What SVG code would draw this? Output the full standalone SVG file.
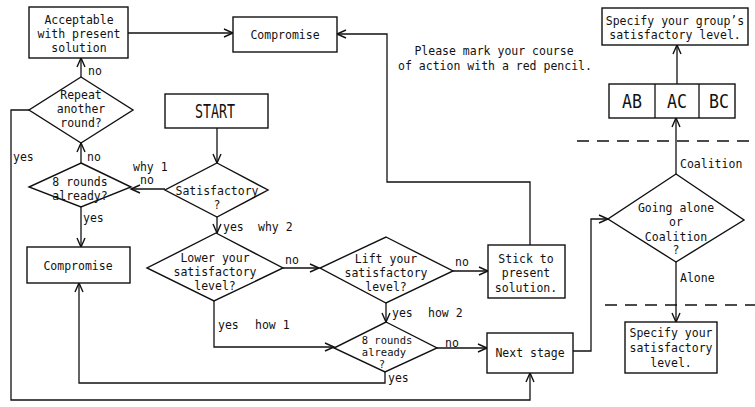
<svg xmlns="http://www.w3.org/2000/svg" width="755" height="407" viewBox="0 0 755 407">
<defs>
<marker id="arr" markerUnits="userSpaceOnUse" markerWidth="12" markerHeight="12" viewBox="-10 -6 12 12" refX="0" refY="0" orient="auto">
<path d="M-9,-4 L0,0 L-9,4" fill="none" stroke="#111" stroke-width="1.4"/>
</marker>
<style>
.s{fill:#fff;stroke:#111;stroke-width:1.4}
.c{fill:none;stroke:#111;stroke-width:1.3;marker-end:url(#arr)}
.l{fill:none;stroke:#111;stroke-width:1.3}
.d{fill:none;stroke:#111;stroke-width:1.4;stroke-dasharray:12 8}
text{font-family:"DejaVu Sans Mono","Liberation Mono",monospace;font-size:11.5px;fill:#111}
.m{text-anchor:middle}
.sm{font-size:10.5px}
.big{font-size:19px}
</style>
</defs>
<rect width="755" height="407" fill="#fff"/>

<g id="connectors">
<path class="c" d="M128,33 H233"/>
<path class="c" d="M530,245 V182 H387 V34 H337"/>
<path class="c" d="M81,77 V58"/>
<path class="c" d="M29,110 H11 V400 H530 V373"/>
<path class="c" d="M81,163 V143"/>
<path class="c" d="M81,207 V247"/>
<path class="c" d="M217,128 V163"/>
<path class="c" d="M165,189 H131"/>
<path class="c" d="M217,217 V233"/>
<path class="c" d="M283,268 H319"/>
<path class="c" d="M214,301 V347 H334"/>
<path class="c" d="M386,303 V322"/>
<path class="c" d="M453,271 H488"/>
<path class="c" d="M437,348 H487"/>
<path class="c" d="M385,372 V383 H79 V283"/>
<path class="c" d="M573,351 H591 V219 H608"/>
<path class="c" d="M676,174 V118"/>
<path class="c" d="M677,84 V45"/>
<path class="c" d="M676,262 V322"/>
</g>

<g id="dashes">
<path class="d" d="M577,141 H755"/>
<path class="d" d="M605,305 H755"/>
</g>

<g id="labels">
<text x="88" y="75">no</text>
<text x="13" y="161">yes</text>
<text x="87" y="161">no</text>
<text x="133" y="171">why 1</text>
<text x="140" y="184">no</text>
<text x="83" y="222">yes</text>
<text x="223" y="231">yes</text>
<text x="258" y="231">why 2</text>
<text x="285" y="264">no</text>
<text x="218" y="329">yes</text>
<text x="255" y="329">how 1</text>
<text x="392" y="317">yes</text>
<text x="428" y="317">how 2</text>
<text x="455" y="266">no</text>
<text x="445" y="347">no</text>
<text x="388" y="382">yes</text>
<text x="680" y="168">Coalition</text>
<text x="680" y="282">Alone</text>
<text class="m" x="494" y="55">Please mark your course</text>
<text class="m" x="495" y="70">of action with a red pencil.</text>
</g>

<g id="acceptable">
<rect class="s" x="29" y="7" width="99" height="51"/>
<text class="m" x="79" y="24">Acceptable</text>
<text class="m" x="79" y="38">with present</text>
<text class="m" x="79" y="52">solution</text>
</g>

<g id="compromise-top">
<rect class="s" x="233" y="17" width="104" height="35"/>
<text class="m" x="285" y="39">Compromise</text>
</g>

<g id="specify-group">
<rect class="s" x="602" y="8" width="146" height="37"/>
<text class="m" x="675" y="25">Specify your group’s</text>
<text class="m" x="675" y="39">satisfactory level.</text>
</g>

<g id="coalitions">
<rect class="s" x="609" y="84" width="126" height="34"/>
<path class="l" d="M655,84 V118 M699,84 V118"/>
<text class="m big" x="632" y="108" textLength="20" lengthAdjust="spacingAndGlyphs">AB</text>
<text class="m big" x="677" y="108" textLength="20" lengthAdjust="spacingAndGlyphs">AC</text>
<text class="m big" x="719" y="108" textLength="20" lengthAdjust="spacingAndGlyphs">BC</text>
</g>

<g id="start">
<rect class="s" x="165" y="94" width="103" height="34"/>
<text class="m big" x="215" y="118" textLength="40" lengthAdjust="spacingAndGlyphs">START</text>
</g>

<g id="repeat">
<polygon class="s" points="81,77 133,110 81,143 29,110"/>
<text class="m" x="81" y="99">Repeat</text>
<text class="m" x="81" y="113">another</text>
<text class="m" x="81" y="127">round?</text>
</g>

<g id="rounds-left">
<polygon class="s" points="81,163 131,187 81,207 29,187"/>
<text class="m" x="80" y="186">8 rounds</text>
<text class="m" x="80" y="200">already?</text>
</g>

<g id="satisfactory">
<polygon class="s" points="217,163 268,190 217,217 165,190"/>
<text class="m" x="217" y="195">Satisfactory</text>
<text class="m" x="217" y="209">?</text>
</g>

<g id="compromise-left">
<rect class="s" x="27" y="247" width="103" height="36"/>
<text class="m" x="78" y="270">Compromise</text>
</g>

<g id="lower">
<polygon class="s" points="216,233 283,268 214,301 147,268"/>
<text class="m" x="215" y="262">Lower your</text>
<text class="m" x="215" y="276">satisfactory</text>
<text class="m" x="215" y="290">level?</text>
</g>

<g id="lift">
<polygon class="s" points="386,237 453,271 386,303 320,268"/>
<text class="m" x="386" y="263">Lift your</text>
<text class="m" x="386" y="277">satisfactory</text>
<text class="m" x="386" y="291">level?</text>
</g>

<g id="stick">
<rect class="s" x="488" y="245" width="77" height="53"/>
<text class="m" x="526" y="263">Stick to</text>
<text class="m" x="526" y="277">present</text>
<text class="m" x="526" y="292">solution.</text>
</g>

<g id="rounds-right">
<polygon class="s" points="386,322 437,348 385,372 334,348"/>
<text class="m sm" x="387" y="344">8 rounds</text>
<text class="m sm" x="384" y="356">already</text>
<text class="m sm" x="382" y="368">?</text>
</g>

<g id="next-stage">
<rect class="s" x="487" y="333" width="86" height="40"/>
<text class="m" x="530" y="357">Next stage</text>
</g>

<g id="going">
<polygon class="s" points="676,174 744,220 676,262 608,219"/>
<text class="m" x="676" y="212">Going alone</text>
<text class="m" x="676" y="226">or</text>
<text class="m" x="676" y="241">Coalition</text>
<text class="m" x="676" y="254">?</text>
</g>

<g id="specify-own">
<rect class="s" x="625" y="322" width="92" height="51"/>
<text class="m" x="671" y="337">Specify your</text>
<text class="m" x="671" y="352">satisfactory</text>
<text class="m" x="671" y="367">level.</text>
</g>
</svg>
